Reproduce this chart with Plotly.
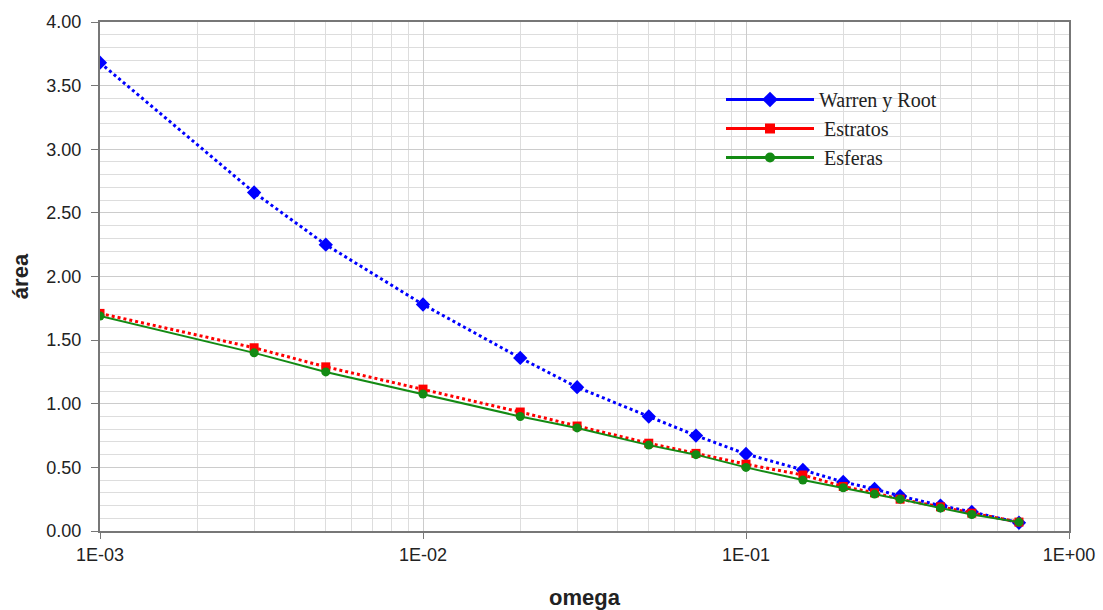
import numpy as np
import plotly.graph_objects as go

# omega values (log scale)
omega = [0.001, 0.003, 0.005, 0.01, 0.02, 0.03, 0.05, 0.07,
         0.1, 0.15, 0.2, 0.25, 0.3, 0.4, 0.5, 0.7]

# area for each model
warren_root = [3.68, 2.66, 2.25, 1.78, 1.36, 1.13, 0.90, 0.75,
               0.605, 0.48, 0.385, 0.33, 0.275, 0.20, 0.15, 0.065]
estratos = [1.71, 1.44, 1.29, 1.115, 0.935, 0.825, 0.69, 0.61,
            0.525, 0.44, 0.35, 0.30, 0.25, 0.19, 0.14, 0.07]
esferas = [1.69, 1.40, 1.25, 1.077, 0.90, 0.81, 0.675, 0.60,
           0.50, 0.40, 0.34, 0.29, 0.25, 0.18, 0.13, 0.07]

x_tickvals = [0.001, 0.01, 0.1, 1.0]
x_ticktext = ["1E-03", "1E-02", "1E-01", "1E+00"]

BLUE = "#0000ff"
RED = "#ff0000"
GREEN = "#138a13"

fig = go.Figure()

series = [
    ("Warren y Root", warren_root, BLUE, "dot", 3, "diamond", 11),
    (" Estratos", estratos, RED, "dot", 3, "square", 9),
    (" Esferas", esferas, GREEN, "solid", 2, "circle", 9),
]

for name, vals, color, dash, width, symbol, msize in series:
    fig.add_trace(go.Scatter(
        x=omega, y=vals, mode="lines+markers", name=name,
        line=dict(color=color, dash=dash, width=width),
        marker=dict(symbol=symbol, size=msize, color=color),
        showlegend=False,
    ))

# legend entries with solid lines
for name, vals, color, dash, width, symbol, msize in series:
    fig.add_trace(go.Scatter(
        x=[None], y=[None], mode="lines+markers", name=name,
        line=dict(color=color, width=3),
        marker=dict(symbol=symbol, size=msize + 1, color=color),
        showlegend=True,
    ))

# white panel behind the legend, covering the grid
fig.add_shape(
    type="rect", xref="paper", yref="paper",
    x0=(698 - 100) / 969, x1=(1012 - 100) / 969,
    y0=(531 - 183) / 509, y1=(531 - 80) / 509,
    fillcolor="white", line=dict(width=0), layer="between",
)

minor_x = [m * 10.0 ** e for e in range(-3, 0) for m in range(2, 10)]

fig.update_layout(
    width=1103, height=610,
    margin=dict(l=100, r=34, t=22, b=79),
    paper_bgcolor="white", plot_bgcolor="white",
    font=dict(family="Liberation Sans, Arial, sans-serif", size=18, color="#222222"),
    legend=dict(
        x=(721 - 100) / 969, y=(531 - 80) / 509, xanchor="left", yanchor="top",
        bgcolor="rgba(0,0,0,0)", borderwidth=0,
        font=dict(family="Liberation Serif, Times New Roman, serif", size=20, color="#222222"),
        itemwidth=88, tracegroupgap=0,
    ),
    xaxis=dict(
        type="log", range=[-3, 0], automargin=False,
        tickvals=x_tickvals, ticktext=x_ticktext,
        showgrid=True, gridcolor="#cccccc", gridwidth=1,
        ticks="outside", ticklen=6, tickcolor="#777777",
        showline=True, linecolor="#777777", linewidth=2, mirror=True,
        minor=dict(tickvals=minor_x, showgrid=True, gridcolor="#dddddd", ticks=""),
        title=dict(text="<b>omega</b>", font=dict(size=22, color="#222222"), standoff=26),
        zeroline=False,
    ),
    yaxis=dict(
        range=[0, 4], dtick=0.5, tickformat=".2f", automargin=False,
        showgrid=True, gridcolor="#cccccc", gridwidth=1,
        ticks="outside", ticklen=7, tickcolor="#777777", ticklabelstandoff=6,
        showline=True, linecolor="#777777", linewidth=2, mirror=True,
        minor=dict(dtick=0.1, showgrid=True, gridcolor="#dddddd", ticks=""),
        title=dict(text="<b>área</b>", font=dict(size=22, color="#222222"), standoff=12),
        zeroline=False,
    ),
)

fig.write_html("out.html")
